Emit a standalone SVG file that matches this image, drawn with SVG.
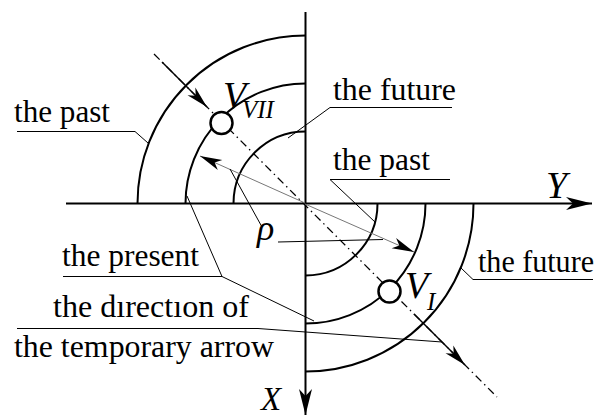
<svg xmlns="http://www.w3.org/2000/svg" width="601" height="416" viewBox="0 0 601 416">
<style>
.lbl{font-size:31px}
.it{font-style:italic}
.ax{stroke:#000;stroke-width:2;fill:none}
.arc{stroke:#000;stroke-width:2;fill:none}
.ld{stroke:#000;stroke-width:1;fill:none}
.gr{stroke:#777;stroke-width:1;fill:none}
.dd{stroke:#000;stroke-width:1.3;fill:none;stroke-dasharray:8 4 1.5 4}
.sol{stroke:#000;stroke-width:1.5;fill:none}
.pt{fill:#fff;stroke:#000;stroke-width:2.5}
</style>
<defs>
<marker id="ah" markerUnits="userSpaceOnUse" markerWidth="24" markerHeight="14" refX="22" refY="7" orient="auto" overflow="visible">
<path d="M22,7 L0,1.5 L6,7 L0,12.5 Z" fill="#000"/>
</marker>
<marker id="axh" markerUnits="userSpaceOnUse" markerWidth="28" markerHeight="16" refX="26" refY="8" orient="auto" overflow="visible">
<path d="M26,8 L0,1.5 L7,8 L0,14.5 Z" fill="#000"/>
</marker>
</defs>
<g id="axes" font-family="Liberation Serif, serif">
<line class="ax" x1="66" y1="203.5" x2="592" y2="203.5" marker-end="url(#axh)"/>
<line class="ax" x1="305.5" y1="12" x2="305.5" y2="415" marker-end="url(#axh)"/>
<text class="it" x="546" y="198" font-size="38">Y</text>
<text class="it" x="261" y="410" font-size="33">X</text>
</g>
<g id="arcs-upper">
<path class="arc" d="M233.5,203.5 A72,72 0 0 1 305.5,131.5"/>
<path class="arc" d="M185.5,203.5 A120,120 0 0 1 305.5,83.5"/>
<path class="arc" d="M137.5,203.5 A168,168 0 0 1 305.5,35.5"/>
</g>
<g id="arcs-lower">
<path class="arc" d="M377.5,203.5 A72,72 0 0 1 305.5,275.5"/>
<path class="arc" d="M425.5,203.5 A120,120 0 0 1 305.5,323.5"/>
<path class="arc" d="M473.5,203.5 A168,168 0 0 1 305.5,371.5"/>
</g>
<g id="connectors">
<line class="dd" x1="154" y1="54" x2="497" y2="397"/>
<line class="sol" x1="162" y1="62" x2="207" y2="107" marker-end="url(#ah)"/>
<line class="sol" x1="414" y1="314" x2="465" y2="365" marker-end="url(#ah)"/>
<line class="gr" x1="305" y1="203" x2="200" y2="156" marker-end="url(#ah)" stroke="#444"/>
<line class="gr" x1="305" y1="204" x2="414" y2="252" stroke="#999" marker-end="url(#ah)"/>
<line class="ld" x1="230" y1="169" x2="262" y2="227"/>
<line class="ld" x1="278" y1="242" x2="383" y2="239.5"/>
<polyline class="ld" points="17,131.5 135,131.5 148,143"/>
<polyline class="ld" points="452,107.5 330,107.5 288,138"/>
<polyline class="ld" points="450,179.5 330,179.5 375,222"/>
<polyline class="ld" points="593,279.5 473,279.5 461,268"/>
<polyline class="ld" points="63,276.5 222,276.5 187,196"/>
<line class="ld" x1="222" y1="276.5" x2="314" y2="321"/>
<polyline class="ld" points="17,328.5 258,328.5 442,342"/>
</g>
<g id="node-VVII" font-family="Liberation Serif, serif">
<circle class="pt" cx="221.5" cy="123" r="11"/>
<text class="it" x="223" y="108" font-size="38">V</text>
<text class="it" x="242" y="118" font-size="25">VII</text>
</g>
<g id="node-VI" font-family="Liberation Serif, serif">
<circle class="pt" cx="389.5" cy="291.5" r="11"/>
<text class="it" x="405" y="298" font-size="38">V</text>
<text class="it" x="427" y="310" font-size="25">I</text>
</g>
<g id="label-rho" font-family="Liberation Serif, serif">
<text class="it" x="257" y="240" font-size="36">ρ</text>
</g>
<g id="labels" font-family="Liberation Serif, serif">
<text class="lbl" x="14" y="122" textLength="96" lengthAdjust="spacingAndGlyphs">the past</text>
<text class="lbl" x="333" y="100" textLength="123" lengthAdjust="spacingAndGlyphs">the future</text>
<text class="lbl" x="333" y="170" textLength="97" lengthAdjust="spacingAndGlyphs">the past</text>
<text class="lbl" x="478" y="272" textLength="116" lengthAdjust="spacingAndGlyphs">the future</text>
<text class="lbl" x="62" y="266" textLength="137" lengthAdjust="spacingAndGlyphs">the present</text>
<text class="lbl" x="53" y="317" textLength="196" lengthAdjust="spacingAndGlyphs">the dırectıon of</text>
<text class="lbl" x="14" y="357" textLength="260" lengthAdjust="spacingAndGlyphs">the temporary arrow</text>
</g>
</svg>
